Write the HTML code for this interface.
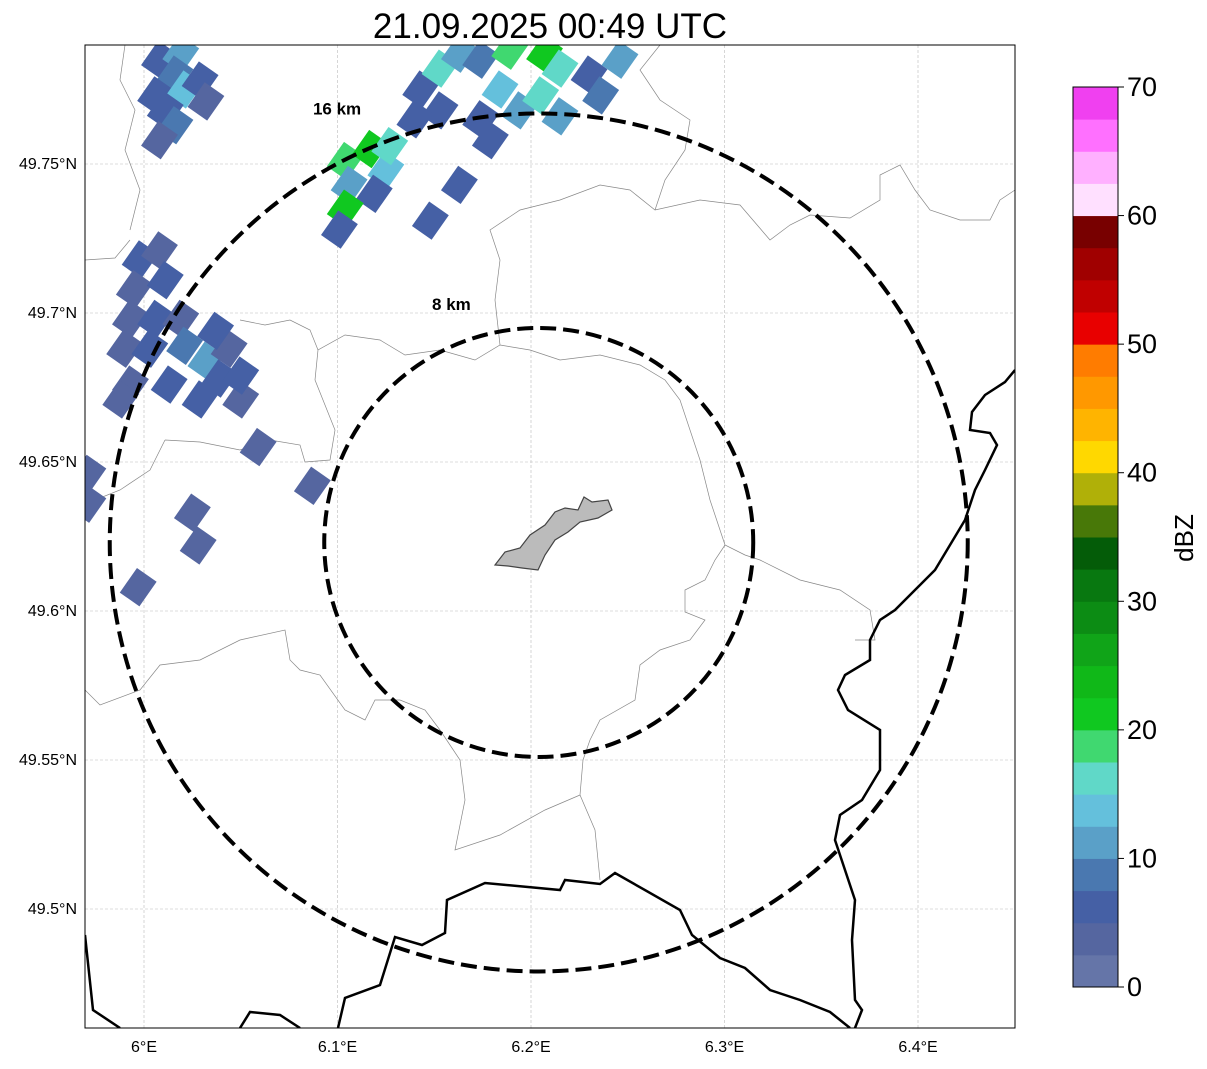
<!DOCTYPE html>
<html><head><meta charset="utf-8"><style>
body{margin:0;background:#fff;font-family:"Liberation Sans",sans-serif}
</style></head><body>
<svg id="chart" width="1207" height="1064" xmlns="http://www.w3.org/2000/svg" font-family="Liberation Sans, sans-serif">
<text x="550" y="38" font-size="35" text-anchor="middle">21.09.2025 00:49 UTC</text>
<defs><clipPath id="mapclip"><rect x="85" y="45" width="930" height="983"/></clipPath></defs>
<g id="grid"></g>
<g clip-path="url(#mapclip)">
<g id="borders" fill="none">
<path stroke="#888" stroke-width="0.7" d="M85,260 L115,258 L130,240 M125,45 L120,80 L135,110 L125,150 L140,190 L130,230 M165,440 L200,442 L240,450 L270,440 L300,445 L305,462 L330,460 L335,430 L325,405 L315,380 L318,350 L345,335 L380,340 L405,355 L440,350 L475,360 L500,345 L530,350 L560,360 L600,355 L640,365 L665,380 L680,400 L690,430 L700,460 L710,500 L725,545 L745,555 L760,560 L800,580 L840,590 L870,610 L875,640 L855,640 M240,320 L265,325 L290,320 L310,330 L318,350 M500,345 L495,300 L500,260 L490,230 L520,210 L560,200 L600,185 L630,190 L655,210 L700,200 L740,205 L770,240 L790,225 L810,215 L850,218 L880,200 L880,175 L900,165 L915,190 L930,210 L960,220 L990,220 L1000,200 L1015,190 M655,210 L665,180 L685,150 L690,120 L660,100 L640,70 L660,45 M165,440 L150,470 L120,490 L95,500 M85,690 L100,705 L140,690 L160,665 L200,660 L240,640 L285,630 L290,660 L300,670 L320,675 L345,710 L365,720 L375,700 L400,700 L425,710 L440,730 L460,760 L465,800 L455,850 L500,835 L545,810 L580,795 L595,830 L600,880 M580,795 L583,760 L590,740 L600,720 L635,700 L640,665 L660,650 L690,640 L705,620 L685,612 L685,590 L705,580 L715,560 L725,545"/>
<path stroke="#000" stroke-width="2.5" d="M1015,370 L1005,382 L985,395 L972,412 L970,430 L990,433 L997,445 L985,470 L975,490 L965,520 L950,545 L935,570 L915,590 L895,610 L880,620 L870,640 L870,660 L845,675 L838,690 L848,710 L880,730 L880,770 L862,800 L840,815 L835,840 L845,870 L855,900 L852,940 L855,1000 L862,1010 L855,1028"/>
<path stroke="#000" stroke-width="2.5" d="M338,1028 L345,998 L380,985 L395,937 L422,945 L445,933 L447,900 L485,883 L560,890 L565,880 L600,884 L615,873 L680,910 L692,935 L720,958 L745,968 L770,990 L800,1000 L830,1012 L850,1028 M85,935 L93,1010 L120,1028 M240,1028 L250,1012 L280,1015 L300,1028"/>
</g>
<g id="cells"></g>
<path fill="#bbb" stroke="#444" stroke-width="1.2" d="M495,565 L505,552 L520,548 L530,535 L545,525 L555,512 L565,508 L578,510 L584,497 L592,502 L608,500 L612,510 L598,518 L580,522 L568,532 L555,540 L545,555 L538,570 L522,568 L508,566 Z"/>
<g id="rings"></g>
</g>
<rect x="85" y="45" width="930" height="983" fill="none" stroke="#000" stroke-width="1"/>
<g id="axes" font-size="16"></g>
<g id="cbar"></g>
<text transform="translate(1193,538) rotate(-90)" font-size="26" text-anchor="middle">dBZ</text>
</svg>
<script>
const NS="http://www.w3.org/2000/svg";
const lonTicks=[6.0,6.1,6.2,6.3,6.4];
const lonLabels=["6°E","6.1°E","6.2°E","6.3°E","6.4°E"];
const latTicks=[49.75,49.7,49.65,49.6,49.55,49.5];
const latLabels=["49.75°N","49.7°N","49.65°N","49.6°N","49.55°N","49.5°N"];
const ringKm=[8,16];
const ringLabels=["8 km","16 km"];
const center=[6.204,49.623];
const cbarTicks=[0,10,20,30,40,50,60,70];
const cbarColors=["#6575a8","#5566a0","#4560a5","#4a78b0","#5aa0c8","#64c0dc","#60d8c8","#40d870","#10c820","#10b818","#10a418","#0c8c14","#087810","#045c08","#487808","#b0b008","#ffd800","#ffb400","#ff9800","#ff7c00","#e80000","#c00000","#a00000","#780000","#ffe0ff","#ffb0ff","#ff70ff","#f040f0"];
const cellLon=[6.008,6.019,6.016,6.006,6.021,6.011,6.016,6.008,6.029,6.032,
6.143,6.153,6.163,6.174,6.189,6.207,6.215,6.230,6.236,6.184,6.194,6.174,6.215,6.246,6.153,6.179,6.205,6.140,
6.104,6.117,6.125,6.106,6.119,6.104,6.101,6.127,6.163,6.148,
5.998,6.008,5.995,6.011,5.993,6.006,6.019,5.990,6.003,6.021,6.032,6.039,5.993,6.013,6.029,6.050,6.044,6.037,6.050,5.988,
6.059,6.087,6.025,6.028,5.997,5.971,5.971];
const cellLat=[49.785,49.787,49.780,49.773,49.775,49.768,49.763,49.758,49.778,49.771,
49.775,49.782,49.787,49.785,49.788,49.787,49.782,49.780,49.773,49.775,49.768,49.765,49.766,49.785,49.768,49.758,49.773,49.765,
49.751,49.755,49.748,49.743,49.740,49.735,49.728,49.756,49.743,49.731,
49.718,49.721,49.708,49.711,49.698,49.698,49.698,49.688,49.688,49.689,49.684,49.678,49.676,49.676,49.671,49.671,49.688,49.694,49.679,49.671,
49.655,49.642,49.633,49.622,49.608,49.636,49.646];
const cellDbz=[5,12,8,5,14,5,8,3,5,3,
5,15,12,8,18,22,15,5,8,14,12,5,10,10,5,5,17,5,
18,20,14,12,5,22,5,15,5,5,
5,3,3,5,3,5,3,3,5,8,12,5,3,5,5,3,3,5,5,3,
3,3,3,3,3,3,3];
const X=lon=>144+(lon-6)*1935;
const Y=lat=>164-(lat-49.75)*2980;
const pxPerKm=429/16;
function mk(t,a,p){const e=document.createElementNS(NS,t);for(const k in a)e.setAttribute(k,a[k]);p.appendChild(e);return e;}
const grid=document.getElementById('grid'),axes=document.getElementById('axes');
lonTicks.forEach((v,i)=>{const x=X(v);
const l=mk('line',{x1:x,x2:x,y1:45,y2:1028,stroke:'#bbb','stroke-width':0.6,'stroke-dasharray':'3,2'},grid);

const t=mk('text',{x:x,y:1052,'text-anchor':'middle'},axes);t.textContent=lonLabels[i];
});
latTicks.forEach((v,i)=>{const y=Y(v);
const l=mk('line',{x1:85,x2:1015,y1:y,y2:y,stroke:'#bbb','stroke-width':0.6,'stroke-dasharray':'3,2'},grid);

const t=mk('text',{x:77,y:y+5,'text-anchor':'end'},axes);t.textContent=latLabels[i];
});
function col(d){return cbarColors[Math.max(0,Math.min(cbarColors.length-1,Math.floor(d/2.5)))];}
const cells=document.getElementById('cells');
cellLon.forEach((lo,i)=>{const x=X(lo),y=Y(cellLat[i]);
const r=mk('rect',{x:x-12,y:y-15,width:24,height:30,fill:col(cellDbz[i]),transform:`rotate(35 ${x} ${y})`},cells);
});
const rings=document.getElementById('rings');
const cx=X(center[0]),cy=Y(center[1]);
ringKm.forEach((k,i)=>{const r=k*pxPerKm;
const c=mk('circle',{cx:cx,cy:cy,r:r,fill:'none',stroke:'#000','stroke-width':4,'stroke-dasharray':'16,7'},rings);

const t=mk('text',{x:cx-r*0.533+27,y:cy-r*0.911-37,'font-size':17,'font-weight':'bold','text-anchor':'middle'},rings);t.textContent=ringLabels[i];
});
const cb=document.getElementById('cbar');
const cbY=v=>987-v*900/70;
cbarColors.forEach((c,i)=>{
const r=mk('rect',{x:1073,y:cbY((i+1)*2.5),width:45,height:900/28+0.5,fill:c},cb);
});
mk('rect',{x:1073,y:87,width:45,height:900,fill:'none',stroke:'#000','stroke-width':1},cb);
cbarTicks.forEach(v=>{const y=cbY(v);
mk('line',{x1:1118,x2:1124,y1:y,y2:y,stroke:'#000'},cb);
const t=mk('text',{x:1127,y:y+9,'font-size':27},cb);t.textContent=v;
});
</script>
</body></html>
